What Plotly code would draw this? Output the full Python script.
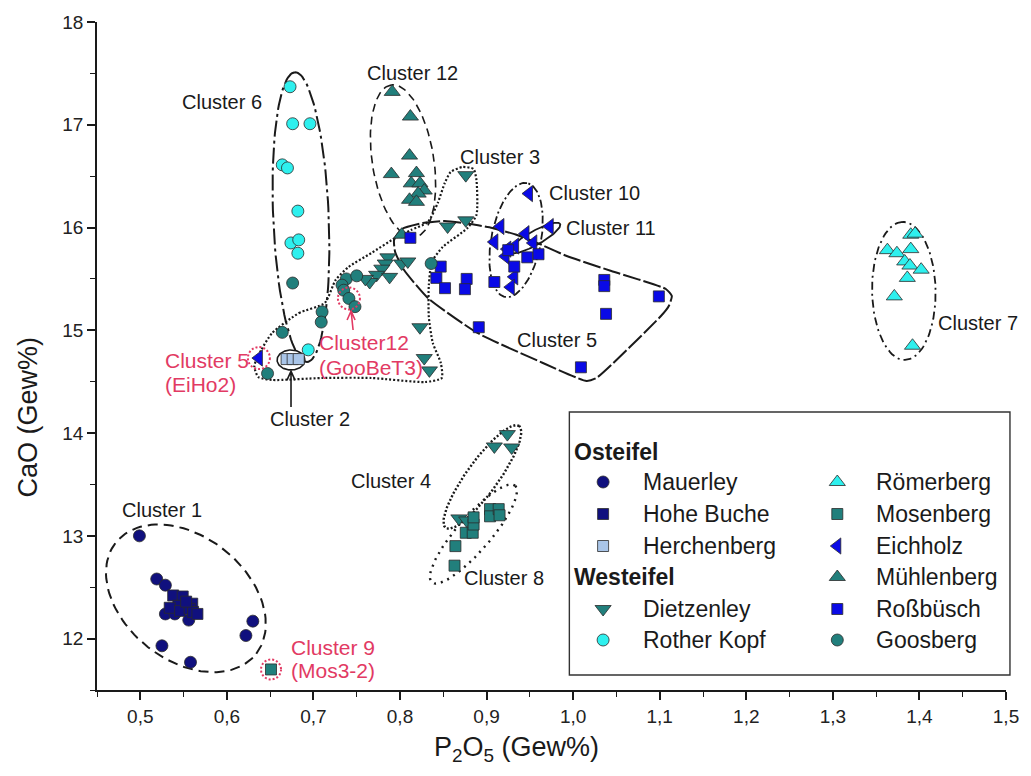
import math
import plotly.graph_objects as go

# ---------------------------------------------------------------- frame
X_RANGE = [0.45, 1.5]
Y_RANGE = [11.5, 18.0]
FIG_W, FIG_H = 1031, 776
M_L, M_R, M_T, M_B = 97, 18, 22, 86
PLOT_W = FIG_W - M_L - M_R
PLOT_H = FIG_H - M_T - M_B
PX_PER_X = PLOT_W / (X_RANGE[1] - X_RANGE[0])
PX_PER_Y = PLOT_H / (Y_RANGE[1] - Y_RANGE[0])

FONT = "Liberation Sans, Arial, sans-serif"
INK = "#1a1a1a"
RED = "#e23a63"

# ---------------------------------------------------------------- data (P2O5, CaO in Gew%)
mauerley_p2o5 = [0.499, 0.519, 0.529, 0.529, 0.540, 0.556, 0.525, 0.558, 0.630, 0.622]
mauerley_cao = [13.00, 12.58, 12.52, 12.24, 12.24, 12.18, 11.93, 11.77, 12.17, 12.03]

hohebuche_p2o5 = [0.538, 0.549, 0.544, 0.560, 0.534, 0.546, 0.557, 0.561, 0.566, 0.553]
hohebuche_cao = [12.42, 12.41, 12.32, 12.34, 12.30, 12.27, 12.29, 12.26, 12.24, 12.36]

herchenberg_p2o5 = [0.669, 0.676, 0.683]
herchenberg_cao = [14.72, 14.72, 14.72]

dietzenley_p2o5 = [0.924, 0.909, 0.929, 0.868, 0.877, 0.876, 0.855, 0.876,
                   0.786, 0.783, 0.779, 0.773, 0.765, 0.760, 0.788, 0.802, 0.809,
                   0.823, 0.828, 0.834]
dietzenley_cao = [13.99, 13.87, 13.86, 13.17, 13.15, 16.51, 16.01, 16.07,
                  15.71, 15.65, 15.60, 15.54, 15.47, 15.50, 15.52, 15.65, 15.67,
                  15.03, 14.73, 14.61]

rotherkopf_p2o5 = [0.673, 0.676, 0.696, 0.664, 0.670, 0.682, 0.674, 0.683, 0.682, 0.694]
rotherkopf_cao = [17.37, 17.01, 17.01, 16.61, 16.58, 16.16, 15.85, 15.88, 15.75, 14.81]

roemerberg_p2o5 = [1.390, 1.395, 1.363, 1.374, 1.390, 1.383, 1.389, 1.402, 1.386, 1.371, 1.392]
roemerberg_cao = [15.93, 15.94, 15.78, 15.75, 15.79, 15.67, 15.63, 15.59, 15.51, 15.33, 14.85]

mosenberg_p2o5 = [0.651, 0.864, 0.863, 0.876, 0.884, 0.885, 0.885, 0.904, 0.904, 0.914, 0.915]
mosenberg_cao = [11.70, 12.90, 12.71, 13.03, 13.03, 13.11, 13.18, 13.26, 13.19, 13.26, 13.20]

eichholz_p2o5 = [0.949, 0.916, 0.973, 0.909, 0.945, 0.933, 0.924, 0.922, 0.932, 0.928, 0.954, 0.637]
eichholz_cao = [16.33, 16.01, 16.01, 15.86, 15.94, 15.82, 15.79, 15.72, 15.52, 15.42, 15.85, 14.73]

muehlenberg_p2o5 = [0.791, 0.812, 0.811, 0.790, 0.819, 0.813, 0.823, 0.828, 0.821, 0.811, 0.819, 0.802]
muehlenberg_cao = [17.32, 17.08, 16.70, 16.52, 16.53, 16.43, 16.43, 16.36, 16.33, 16.27, 16.25, 15.93]

rossbuesch_p2o5 = [0.812, 0.847, 0.842, 0.852, 0.877, 0.875, 0.909, 0.891, 0.947, 0.932,
                   0.960, 1.036, 1.036, 1.038, 1.099, 1.009, 0.925]
rossbuesch_cao = [15.90, 15.62, 15.51, 15.41, 15.50, 15.40, 15.47, 15.03, 15.71, 15.62,
                  15.74, 15.49, 15.43, 15.16, 15.33, 14.64, 15.78]

goosberg_p2o5 = [0.676, 0.738, 0.750, 0.733, 0.735, 0.741, 0.748, 0.710, 0.709, 0.664, 0.647, 0.836]
goosberg_cao = [15.46, 15.50, 15.53, 15.44, 15.39, 15.31, 15.23, 15.18, 15.08, 14.98, 14.58, 15.65]

# ---------------------------------------------------------------- marker styles
NAVY, TEAL, CYAN, BLUE, PALE = "#10107e", "#217f7c", "#2ef0ee", "#0a0ae6", "#a9c5e8"
STYLE = {
    "Mauerley":    dict(symbol="circle",         color=NAVY, size=12),
    "Hohe Buche":  dict(symbol="square",         color=NAVY, size=11),
    "Herchenberg": dict(symbol="square",         color=PALE, size=11),
    "Dietzenley":  dict(symbol="triangle-down",  color=TEAL, size=14),
    "Rother Kopf": dict(symbol="circle",         color=CYAN, size=12),
    "Römerberg":   dict(symbol="triangle-up",    color=CYAN, size=14),
    "Mosenberg":   dict(symbol="square",         color=TEAL, size=11),
    "Eichholz":    dict(symbol="triangle-left",  color=BLUE, size=14),
    "Mühlenberg":  dict(symbol="triangle-up",    color=TEAL, size=14),
    "Roßbüsch":    dict(symbol="square",         color=BLUE, size=11),
    "Goosberg":    dict(symbol="circle",         color=TEAL, size=12),
}
SERIES = [
    ("Mauerley", mauerley_p2o5, mauerley_cao),
    ("Hohe Buche", hohebuche_p2o5, hohebuche_cao),
    ("Herchenberg", herchenberg_p2o5, herchenberg_cao),
    ("Dietzenley", dietzenley_p2o5, dietzenley_cao),
    ("Rother Kopf", rotherkopf_p2o5, rotherkopf_cao),
    ("Römerberg", roemerberg_p2o5, roemerberg_cao),
    ("Mosenberg", mosenberg_p2o5, mosenberg_cao),
    ("Eichholz", eichholz_p2o5, eichholz_cao),
    ("Mühlenberg", muehlenberg_p2o5, muehlenberg_cao),
    ("Roßbüsch", rossbuesch_p2o5, rossbuesch_cao),
    ("Goosberg", goosberg_p2o5, goosberg_cao),
]

# legend columns (None leaves a row empty)
LEGEND_COL1 = ["Osteifel", "Mauerley", "Hohe Buche", "Herchenberg",
               "Westeifel", "Dietzenley", "Rother Kopf"]
LEGEND_COL2 = [None, "Römerberg", "Mosenberg", "Eichholz",
               "Mühlenberg", "Roßbüsch", "Goosberg"]
LEGEND_HEADINGS = {"Osteifel", "Westeifel"}

# ---------------------------------------------------------------- cluster outlines
# ellipses: centre (data), semi-axes (px), rotation (deg, screen, y up)
ELLIPSES = {
    "c1":  dict(cx=0.5527, cy=12.392, a=90, b=62, ang=-38, dash="10px,6px", width=2.0),
    "c6":  dict(cx=0.6856, cy=16.101, a=145, b=28, ang=92.4, dash="16px,4px,3px,4px", width=2.0),
    "c12": dict(cx=0.8035, cy=16.647, a=77, b=31, ang=99, dash="8px,5px", width=1.6),
    "c10": dict(cx=0.9341, cy=15.879, a=58, b=25, ang=79, dash="8px,3px,2px,3px", width=1.8),
    "c11": dict(cx=0.9559, cy=15.898, a=29, b=7, ang=29, dash="solid", width=1.8),
    "c7":  dict(cx=1.3820, cy=15.383, a=69, b=32, ang=91, dash="8px,4px,2px,4px", width=1.8),
    "c4":  dict(cx=0.8952, cy=13.573, a=63, b=16, ang=54, dash="2px,2px", width=2.4),
    "c8":  dict(cx=0.8849, cy=13.018, a=64, b=17, ang=49, dash="2px,5px", width=2.4),
    "c2":  dict(cx=0.6741, cy=14.711, a=14, b=10, ang=0, dash="solid", width=1.6),
}

CLUSTER3_P2O5 = [0.6523, 0.6833, 0.7131, 0.7257, 0.7405, 0.7669, 0.7944, 0.8127, 0.8322,
                 0.8436, 0.8517, 0.8585, 0.8723, 0.8849, 0.8883, 0.8883, 0.8780, 0.8494,
                 0.8368, 0.8333, 0.8333, 0.8379, 0.8471, 0.8482, 0.8288, 0.7669, 0.7096,
                 0.6523, 0.6363, 0.6317, 0.6397, 0.6523]
CLUSTER3_CAO = [14.974, 15.168, 15.266, 15.490, 15.616, 15.752, 15.898, 15.976, 16.054,
                16.239, 16.433, 16.540, 16.589, 16.570, 16.463, 16.122, 15.996, 15.811,
                15.665, 15.441, 15.130, 14.877, 14.682, 14.536, 14.497, 14.536, 14.536,
                14.517, 14.546, 14.653, 14.808, 14.974]

CLUSTER5_P2O5 = [0.7932, 0.8024, 0.8265, 0.8517, 0.8814, 0.9066, 0.9353, 0.9639, 0.9926,
                 1.0441, 1.1071, 1.1140, 1.1105, 1.1014, 1.0269, 1.0155, 0.9651, 0.8895,
                 0.8322, 0.8047, 0.7944, 0.7932]
CLUSTER5_CAO = [15.879, 15.986, 16.044, 16.064, 16.034, 15.996, 15.927, 15.830, 15.723,
                15.577, 15.402, 15.334, 15.237, 15.139, 14.536, 14.507, 14.682, 14.974,
                15.314, 15.587, 15.762, 15.879]

# single-sample clusters marked with red rings: (centre, radius px)
RINGS = [(0.637, 14.73, 11), (0.741, 15.31, 11), (0.651, 11.70, 10)]

# pointer arrows: head (data), tail offset (px, y up), colour
ARROWS = [(0.6741, 14.603, 0, -36, INK), (0.7435, 15.188, 2, -19, RED)]


def ellipse_path(cx, cy, a, b, ang, n=120):
    th = math.radians(ang)
    xs, ys = [], []
    for i in range(n + 1):
        t = 2 * math.pi * i / n
        dx = a * math.cos(t) * math.cos(th) - b * math.sin(t) * math.sin(th)
        dy = a * math.cos(t) * math.sin(th) + b * math.sin(t) * math.cos(th)
        xs.append(cx + dx / PX_PER_X)
        ys.append(cy + dy / PX_PER_Y)
    return xs, ys


fig = go.Figure()

# outlines first so the markers sit on top
fig.add_trace(go.Scatter(x=CLUSTER3_P2O5, y=CLUSTER3_CAO, mode="lines",
                         line=dict(color=INK, width=2.2, dash="2px,2px", shape="spline", smoothing=0.6),
                         hoverinfo="skip", showlegend=False))
fig.add_trace(go.Scatter(x=CLUSTER5_P2O5, y=CLUSTER5_CAO, mode="lines",
                         line=dict(color=INK, width=2.0, dash="18px,3px", shape="spline", smoothing=0.5),
                         hoverinfo="skip", showlegend=False))
for key, e in ELLIPSES.items():
    ex, ey = ellipse_path(e["cx"], e["cy"], e["a"], e["b"], e["ang"])
    fig.add_trace(go.Scatter(x=ex, y=ey, mode="lines",
                             line=dict(color=INK, width=e["width"], dash=e["dash"]),
                             hoverinfo="skip", showlegend=False))

for name, xs, ys in SERIES:
    st = STYLE[name]
    fig.add_trace(go.Scatter(
        x=xs, y=ys, mode="markers", name=name, showlegend=False, opacity=1,
        marker=dict(symbol=st["symbol"], color=st["color"], size=st["size"], opacity=1,
                    line=dict(color="#2b2b2b", width=0.8)),
    ))

# ---------------------------------------------------------------- hand-made legend
def px_to_paper_x(px):
    return (px - M_L) / PLOT_W


def px_to_paper_y(py):
    return (FIG_H - M_B - py) / PLOT_H


LEG_BOX = (573, 412, 1017, 675)
LEG_ROWS = [452, 482, 514, 546, 577, 609, 640]
LEG_MARK_X = (607, 843)
LEG_TEXT_X = (645, 880)
LEG_HEAD_X = 576
LEG_FONT = dict(family=FONT, size=23, color=INK)

annotations = []
for col, entries in enumerate((LEGEND_COL1, LEGEND_COL2)):
    for row, label in enumerate(entries):
        if label is None:
            continue
        yy = px_to_paper_y(LEG_ROWS[row])
        if label in LEGEND_HEADINGS:
            annotations.append(dict(xref="paper", yref="paper", x=px_to_paper_x(LEG_HEAD_X), y=yy,
                                    text="<b>%s</b>" % label, showarrow=False, xanchor="left",
                                    yanchor="middle", font=LEG_FONT))
            continue
        st = STYLE[label]
        fig.add_trace(go.Scatter(x=[px_to_paper_x(LEG_MARK_X[col])], y=[yy], xaxis="x2", yaxis="y2",
                                 mode="markers", showlegend=False, hoverinfo="skip",
                                 cliponaxis=False, opacity=1,
                                 marker=dict(symbol=st["symbol"], color=st["color"], size=st["size"],
                                             opacity=1, line=dict(color="#2b2b2b", width=0.8))))
        annotations.append(dict(xref="paper", yref="paper", x=px_to_paper_x(LEG_TEXT_X[col]), y=yy,
                                text=label, showarrow=False, xanchor="left", yanchor="middle",
                                font=LEG_FONT))

shapes = [dict(type="rect", xref="paper", yref="paper",
               x0=px_to_paper_x(LEG_BOX[0]), x1=px_to_paper_x(LEG_BOX[2]),
               y0=px_to_paper_y(LEG_BOX[3]), y1=px_to_paper_y(LEG_BOX[1]),
               line=dict(color="#333333", width=1.4), fillcolor="white", layer="below")]

for cx, cy, r in RINGS:
    shapes.append(dict(type="circle", xref="x", yref="y", xsizemode="pixel", ysizemode="pixel",
                       xanchor=cx, yanchor=cy, x0=-r, x1=r, y0=-r, y1=r,
                       line=dict(color=RED, width=2, dash="2px,2px")))

for hx, hy, tx, ty, colr in ARROWS:
    shapes.append(dict(type="path", xref="x", yref="y", xsizemode="pixel", ysizemode="pixel",
                       xanchor=hx, yanchor=hy,
                       path="M %g,%g L 0,0 M -4,-9 L 0,0 L 4,-9" % (tx, ty),
                       line=dict(color=colr, width=1.6)))

# ---------------------------------------------------------------- cluster labels
LABEL_FONT = dict(family=FONT, size=20, color=INK)
RED_FONT = dict(family=FONT, size=21, color=RED)
CLUSTER_LABELS = [
    ("Cluster 1", 0.525, 13.25, "center"),
    ("Cluster 6", 0.594, 17.22, "center"),
    ("Cluster 12", 0.815, 17.50, "center"),
    ("Cluster 3", 0.916, 16.69, "center"),
    ("Cluster 10", 0.970, 16.34, "left"),
    ("Cluster 11", 0.989, 16.00, "left"),
    ("Cluster 5", 0.981, 14.91, "center"),
    ("Cluster 7", 1.419, 15.07, "left"),
    ("Cluster 4", 0.790, 13.53, "center"),
    ("Cluster 8", 0.920, 12.59, "center"),
    ("Cluster 2", 0.696, 14.14, "center"),
]
for text, x, y, anchor in CLUSTER_LABELS:
    annotations.append(dict(x=x, y=y, xref="x", yref="y", text=text, showarrow=False,
                            xanchor=anchor, yanchor="middle", font=LABEL_FONT))

RED_LABELS = [
    ("Cluster 5", 0.526, 14.711), ("(EiHo2)", 0.526, 14.468),
    ("Cluster12", 0.704, 14.886), ("(GooBeT3)", 0.704, 14.643),
    ("Cluster 9", 0.672, 11.918), ("(Mos3-2)", 0.672, 11.685),
]
for text, x, y in RED_LABELS:
    annotations.append(dict(x=x, y=y, xref="x", yref="y", text=text, showarrow=False,
                            xanchor="left", yanchor="middle", font=RED_FONT))

# axis titles
annotations.append(dict(xref="paper", yref="paper", x=px_to_paper_x(27), y=px_to_paper_y(417),
                        xanchor="center", yanchor="middle",
                        text="CaO (Gew%)", textangle=-90, showarrow=False,
                        font=dict(family=FONT, size=27, color=INK)))
annotations.append(dict(xref="paper", yref="paper", x=px_to_paper_x(520), y=px_to_paper_y(749),
                        xanchor="center", yanchor="middle",
                        text="P<sub>2</sub>O<sub>5</sub> (Gew%)", showarrow=False,
                        font=dict(family=FONT, size=27, color=INK)))

axis_common = dict(showgrid=False, zeroline=False, showline=True, linecolor=INK, linewidth=1.5,
                   ticks="outside", ticklen=8, tickwidth=1.5, tickcolor=INK,
                   tickfont=dict(family=FONT, size=19, color="#222222"))

fig.update_layout(
    width=FIG_W, height=FIG_H,
    margin=dict(l=M_L, r=M_R, t=M_T, b=M_B),
    paper_bgcolor="white", plot_bgcolor="white",
    separators=",.",
    showlegend=False,
    xaxis=dict(range=X_RANGE, tick0=0.5, dtick=0.1, tickformat=".1f",
               minor=dict(ticks="outside", ticklen=5, tickwidth=1.3, tickcolor=INK,
                          tick0=0.45, dtick=0.05, showgrid=False),
               **axis_common),
    yaxis=dict(range=Y_RANGE, tick0=12, dtick=1,
               minor=dict(ticks="outside", ticklen=5, tickwidth=1.3, tickcolor=INK,
                          tick0=11.5, dtick=0.5, showgrid=False),
               **axis_common),
    xaxis2=dict(overlaying="x", range=[0, 1], visible=False, fixedrange=True),
    yaxis2=dict(overlaying="y", range=[0, 1], visible=False, fixedrange=True),
    shapes=shapes,
    annotations=annotations,
)

fig.write_html("out.html")
